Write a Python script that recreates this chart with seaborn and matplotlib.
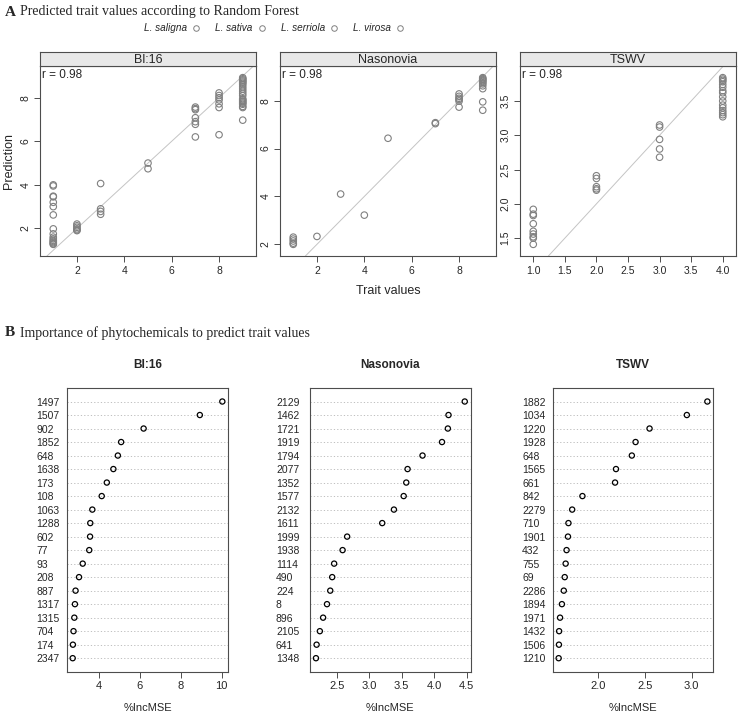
import numpy as np
import pandas as pd
import seaborn as sns
import matplotlib.pyplot as plt
from matplotlib.lines import Line2D

# A: observed trait values vs random forest prediction
bl16_trait = [1, 1, 1, 1, 1, 1, 1, 1, 1, 1, 1, 1, 1, 1, 1, 1,
              2, 2, 2, 2, 2, 2, 3, 3, 3, 3, 5, 5,
              7, 7, 7, 7, 7, 7, 7, 8, 8, 8, 8, 8, 8, 8,
              9, 9, 9, 9, 9, 9, 9, 9, 9, 9, 9, 9, 9, 9, 9, 9, 9, 9, 9, 9, 9]
bl16_pred = [4.0, 3.95, 3.48, 3.45, 3.2, 3.0, 2.62, 1.98, 1.75, 1.6, 1.52, 1.45, 1.4, 1.35, 1.3, 1.27,
             2.2, 2.12, 2.05, 1.98, 1.93, 1.9, 4.06, 2.9, 2.78, 2.65, 5.0, 4.74,
             7.57, 7.5, 7.45, 7.08, 6.9, 6.78, 6.2, 8.22, 8.1, 8.0, 7.9, 7.72, 7.55, 6.3,
             8.92, 8.87, 8.82, 8.77, 8.72, 8.67, 8.6, 8.5, 8.4, 8.3, 8.2, 8.1, 7.95, 7.9,
             7.85, 7.8, 7.75, 7.7, 7.6, 7.55, 6.97]

naso_trait = [1, 1, 1, 1, 1, 2, 3, 4, 5, 7, 7, 8, 8, 8, 8, 8, 8,
              9, 9, 9, 9, 9, 9, 9, 9, 9, 9, 9]
naso_pred = [2.3, 2.22, 2.14, 2.05, 2.0, 2.33, 4.1, 3.22, 6.43, 7.08, 7.04,
             8.28, 8.18, 8.1, 8.05, 7.98, 7.73,
             8.96, 8.92, 8.88, 8.84, 8.8, 8.75, 8.7, 8.62, 8.5, 7.95, 7.6]

tswv_trait = [1, 1, 1, 1, 1, 1, 1, 1, 1, 2, 2, 2, 2, 2, 3, 3, 3, 3, 3,
              4, 4, 4, 4, 4, 4, 4, 4, 4, 4, 4, 4, 4, 4, 4, 4]
tswv_pred = [1.92, 1.85, 1.83, 1.71, 1.6, 1.56, 1.52, 1.5, 1.41,
             2.41, 2.37, 2.25, 2.22, 2.2, 3.15, 3.12, 2.94, 2.8, 2.68,
             3.84, 3.82, 3.8, 3.78, 3.74, 3.7, 3.65, 3.62, 3.56, 3.5, 3.44, 3.4,
             3.36, 3.33, 3.3, 3.27]

species = ["L. saligna", "L. sativa", "L. serriola", "L. virosa"]
r_text = "r = 0.98"

# B: variable importance (%IncMSE)
bl16_ids = ["1497", "1507", "902", "1852", "648", "1638", "173", "108", "1063", "1288",
            "602", "77", "93", "208", "887", "1317", "1315", "704", "174", "2347"]
bl16_imp = [10.03, 8.93, 6.18, 5.08, 4.92, 4.70, 4.38, 4.13, 3.67, 3.57,
            3.56, 3.52, 3.20, 3.02, 2.85, 2.82, 2.79, 2.75, 2.72, 2.71]
naso_ids = ["2129", "1462", "1721", "1919", "1794", "2077", "1352", "1577", "2132", "1611",
            "1999", "1938", "1114", "490", "224", "8", "896", "2105", "641", "1348"]
naso_imp = [4.47, 4.22, 4.21, 4.12, 3.82, 3.59, 3.57, 3.53, 3.38, 3.20,
            2.66, 2.59, 2.46, 2.43, 2.40, 2.35, 2.29, 2.24, 2.19, 2.18]
tswv_ids = ["1882", "1034", "1220", "1928", "648", "1565", "661", "842", "2279", "710",
            "1901", "432", "755", "69", "2286", "1894", "1971", "1432", "1506", "1210"]
tswv_imp = [3.17, 2.95, 2.55, 2.40, 2.36, 2.19, 2.18, 1.83, 1.72, 1.68,
            1.675, 1.66, 1.65, 1.64, 1.63, 1.61, 1.59, 1.58, 1.578, 1.575]

sns.set_style("ticks")
plt.rcParams['font.family'] = ['Liberation Sans', 'DejaVu Sans']

W, H = 738, 717
fig = plt.figure(figsize=(7.38, 7.17), dpi=100)


def box(x0, y0, x1, y1):
    return [x0 / W, 1 - y1 / H, (x1 - x0) / W, (y1 - y0) / H]


def frame(ax):
    for sp in ax.spines.values():
        sp.set_visible(True)
        sp.set_color("#4d4d4d")
        sp.set_linewidth(0.8)


serif = ['Liberation Serif', 'DejaVu Serif']
fig.text(5 / W, 1 - 12 / H, "A", family=serif, fontweight="bold", fontsize=11, va="center")
fig.text(20 / W, 1 - 12 / H, "Predicted trait values according to Random Forest",
         family=serif, fontsize=10, va="center")
fig.text(5 / W, 1 - 333 / H, "B", family=serif, fontweight="bold", fontsize=11, va="center")
fig.text(20 / W, 1 - 333 / H, "Importance of phytochemicals to predict trait values",
         family=serif, fontsize=10, va="center")

# ---- top row: lattice style panels ----
top = [("Bl:16", bl16_trait, bl16_pred, [2, 4, 6, 8], [2, 4, 6, 8], "%d"),
       ("Nasonovia", naso_trait, naso_pred, [2, 4, 6, 8], [2, 4, 6, 8], "%d"),
       ("TSWV", tswv_trait, tswv_pred, [1.0, 1.5, 2.0, 2.5, 3.0, 3.5, 4.0],
        [1.5, 2.0, 2.5, 3.0, 3.5], "%.1f")]
top_x = [(40, 256), (280, 496), (520, 736)]

for (name, tx, py, xt, yt, fmt), (x0, x1) in zip(top, top_x):
    ax = fig.add_axes(box(x0, 66, x1, 256))
    df = pd.DataFrame({"trait": tx, "pred": py})
    sns.scatterplot(data=df, x="trait", y="pred", ax=ax, s=22, marker="o",
                    facecolor="none", edgecolor="#808080", linewidth=0.8, zorder=3)
    ax.axline((0, 0), slope=1, color="#c4c4c4", lw=0.7, zorder=1)
    xr = max(tx) - min(tx)
    yr = max(py) - min(py)
    ax.set_xlim(min(tx) - 0.07 * xr, max(tx) + 0.07 * xr)
    ax.set_ylim(min(py) - 0.07 * yr, max(py) + 0.07 * yr)
    ax.set_xticks(xt)
    ax.set_xticklabels([fmt % v for v in xt])
    ax.set_yticks(yt)
    ax.set_yticklabels([fmt % v for v in yt], rotation=90, va="center")
    ax.tick_params(labelsize=7.5, length=4, width=0.7, color="#4d4d4d", pad=3)
    ax.set_xlabel("")
    ax.set_ylabel("")
    frame(ax)
    ax.text(0.01, 0.985, r_text, transform=ax.transAxes, ha="left", va="top", fontsize=8.5)

    st = fig.add_axes(box(x0, 52, x1, 66))
    st.set_facecolor("#e8e8e8")
    st.set_xticks([])
    st.set_yticks([])
    frame(st)
    st.text(0.5, 0.45, name, transform=st.transAxes, ha="center", va="center", fontsize=9)

fig.text(9 / W, 1 - 161 / H, "Prediction", rotation=90, ha="center", va="center", fontsize=9)
fig.text(388 / W, 1 - 291 / H, "Trait values", ha="center", va="center", fontsize=9)

handles = [Line2D([], [], marker="o", ls="none", mfc="none", mec="#808080", mew=0.7,
                  ms=4, label=s) for s in species]
fig.legend(handles=handles, loc="center", bbox_to_anchor=(275 / W, 1 - 28 / H), ncol=4,
           frameon=False, markerfirst=False, prop={"style": "italic", "size": 7.2},
           columnspacing=1.3, handletextpad=0.3, handlelength=1.2)

# ---- bottom row: dotcharts ----
bottom = [("Bl:16", bl16_ids, bl16_imp, [4, 6, 8, 10], "%d", 22),
          ("Nasonovia", naso_ids, naso_imp, [2.5, 3.0, 3.5, 4.0, 4.5], "%.1f", 24.5),
          ("TSWV", tswv_ids, tswv_imp, [2.0, 2.5, 3.0], "%.1f", 22)]
bot_x = [(66.7, 228.3), (310, 470.7), (552.7, 713.3)]

for (name, ids, imp, xt, fmt, pad), (x0, x1) in zip(bottom, bot_x):
    ax = fig.add_axes(box(x0, 388, x1, 671.7))
    df = pd.DataFrame({"imp": imp, "chem": ids})
    sns.scatterplot(data=df, x="imp", y="chem", ax=ax, s=14, marker="o",
                    facecolor="none", edgecolor="black", linewidth=0.9, zorder=3)
    rng = max(imp) - min(imp)
    ax.set_xlim(min(imp) - 0.04 * rng, max(imp) + 0.04 * rng)
    ax.set_ylim(len(ids), -1)
    ax.set_yticks(range(len(ids)))
    ax.set_yticklabels(ids, ha="left")
    ax.set_xticks(xt)
    ax.set_xticklabels([fmt % v for v in xt])
    ax.grid(axis="y", ls=(0, (1.5, 2.5)), color="#b5b5b5", lw=0.6)
    ax.set_axisbelow(True)
    ax.tick_params(axis="y", length=0, pad=pad, labelsize=7.5)
    ax.tick_params(axis="x", length=4, width=0.7, color="#4d4d4d", labelsize=8, pad=3)
    ax.set_xlabel("%IncMSE", fontsize=8, labelpad=8)
    ax.set_ylabel("")
    frame(ax)
    fig.text((x0 + x1) / 2 / W, 1 - 365 / H, name, ha="center", va="center",
             fontsize=8.5, fontweight="bold")

fig.savefig("out.png", dpi=100)
